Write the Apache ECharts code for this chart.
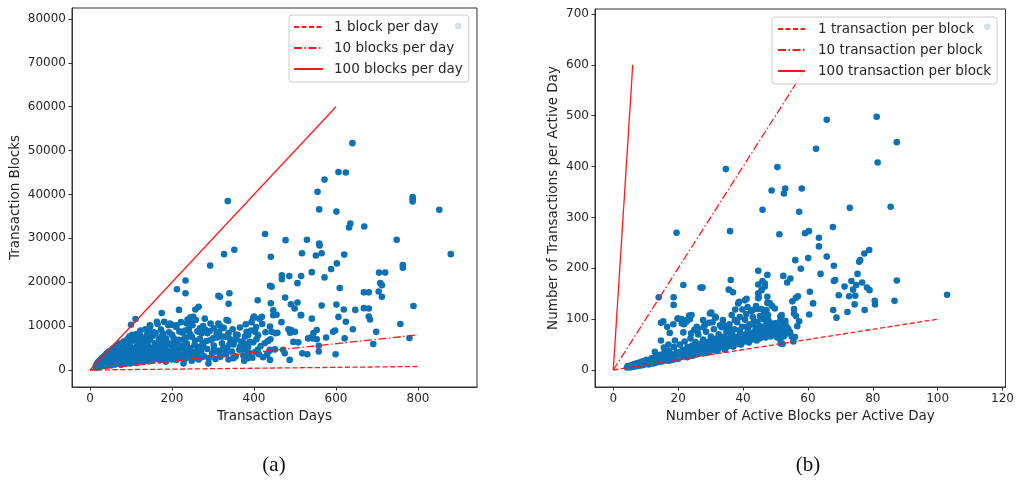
<!DOCTYPE html>
<html>
<head>
<meta charset="utf-8">
<script src="https://cdn.jsdelivr.net/npm/echarts@6/dist/echarts.min.js"></script>
<style>
  html, body { margin: 0; padding: 0; background: #ffffff; }
  #chart { width: 1017px; height: 481px; }
</style>
</head>
<body>
<div id="chart"></div>
<script>
// Tick labels
const daysTicks = [0, 200, 400, 600, 800];
const blocksTicks = [0, 10000, 20000, 30000, 40000, 50000, 60000, 70000, 80000];
const activeBlocksTicks = [0, 20, 40, 60, 80, 100, 120];
const txPerDayTicks = [0, 100, 200, 300, 400, 500, 600, 700];

// Reference rate lines: slope and the x where each line stops
const blockRateNames = ['1 block per day', '10 blocks per day', '100 blocks per day'];
const blockRates = [1, 10, 100];
const blockRateEnds = [800, 800, 600];

const txRateNames = ['1 transaction per block', '10 transaction per block', '100 transaction per block'];
const txRates = [1, 10, 100];
const txRateEnds = [100, 60, 6];

// (a) transaction days vs transaction blocks, one point per account
const daysVsBlocks = [
  [640,51700],[606,45100],[624,45000],[572,43400],[555,40600],[559,36600],[601,36100],[635,33400],
  [632,32500],[669,32700],[336,38500],[427,31000],[477,29600],[529,29700],[559,28800],[560,28400],
  [565,26600],[551,26100],[517,26600],[620,26300],[602,24300],[588,23000],[541,22300],[572,21100],
  [609,18700],[352,27400],[327,26400],[441,25800],[293,23800],[233,20400],[212,18400],[233,17500],
  [340,17500],[313,16900],[317,16700],[338,15100],[409,15900],[441,15200],[447,13600],[447,12500],
  [455,12600],[468,21600],[468,20700],[486,21400],[506,19800],[515,21400],[439,19200],[443,19000],
  [476,16500],[490,15000],[506,15400],[499,14000],[565,14700],[601,14900],[619,13800],[647,13700],
  [668,17700],[680,17700],[668,14100],[680,14000],[680,12200],[683,11500],[606,12100],[624,11000],
  [641,9300],[593,8700],[598,9000],[514,12500],[541,11700],[400,12200],[413,11700],[394,10900],
  [705,22200],[720,22200],[708,19800],[712,19300],[704,17900],[712,16700],[748,29700],[763,23900],
  [763,23300],[787,39400],[787,38900],[787,38400],[852,36500],[880,26400],[789,14600],[757,10500],
  [698,8700],[779,7300],[691,5900],[599,3600],[898,78400],[111,11600],[175,13000],[265,14400],
  [257,13800],[217,13700],[487,2300],[558,4200],[558,5500],[538,7400],[530,3600],[518,3800],
  [453,8400],[467,10900],[439,9900],[443,8700],[457,8500],[484,9300],[490,9100],[500,8700],
  [488,8500],[553,9100],[545,8400],[532,7200],[544,7200],[553,7000],[576,7400],[621,7200],
  [508,6300],[496,6400],[471,4600],[475,3800],[439,4600],[451,4700],[439,2300],[515,12500],
  [252,12100],[258,11400],[146,10200],[163,11000],[191,10200],[211,10200],[236,10600],[313,10600],
  [333,11400],[398,11800],[419,12100],[382,8700],[386,8000],[403,8700],[406,7000],[409,4600],
  [96,7600],[114,6800],[199,10300],[226,8500],[235,7400],[245,12000],[249,11200],[268,9500],
  [272,8400],[277,5300],[286,8400],[280,11700],[294,10600],[302,9500],[309,8400],[317,10100],
  [323,7600],[337,11200],[338,8400],[350,6300],[356,8000],[366,5300],[376,6100],[382,4600],
  [385,2700],[376,2100],[386,5300],[350,2700],[333,3800],[317,3400],[303,4700],[289,1500],
  [272,2900],[260,4200],[248,2100],[240,3800],[228,1500],[220,4900],[206,2700],[200,6100],
  [189,3800],[185,1900],[175,7600],[167,4900],[160,8400],[153,2800],[145,9100],[138,6100],
  [131,3800],[122,7800],[114,5300],[102,7600],[100,10300],
  [14,600],[16,1200],[17,900],[18,1600],[19,700],[20,1300],[21,1900],[22,1000],[23,2100],[24,1500],
  [25,800],[26,2400],[27,1200],[28,1800],[29,2700],[30,1000],[31,2200],[32,1500],[33,3000],[34,1200],
  [35,2600],[36,1900],[37,3300],[38,1400],[39,2300],[40,3700],[41,1100],[42,2800],[43,1700],[44,4100],
  [45,2200],[46,3200],[47,1300],[48,2600],[49,4300],[50,1800],[51,3500],[52,2300],[53,1100],[54,4700],
  [55,2900],[56,1600],[57,3900],[58,2100],[59,5100],[60,3000],[61,1300],[62,4200],[63,2500],[64,5500],
  [65,1800],[66,3400],[67,2200],[68,4600],[69,1500],[70,3700],[71,6000],[72,2700],[73,1900],[74,4900],
  [75,3200],[76,1200],[77,5600],[78,2400],[79,4000],[80,3000],[81,1600],[82,6500],[83,3600],[84,2100],
  [85,4800],[86,2800],[87,1400],[88,5300],[89,3400],[90,2200],[91,7000],[92,4100],[93,1800],[94,3000],
  [95,5900],[96,2500],[97,4500],[98,1500],[99,3800],[100,6400],[101,2800],[103,5000],[104,1900],[105,7300],
  [106,3500],[108,2400],[109,4500],[110,6800],[112,3100],[113,1600],[115,5600],[116,2700],[118,4100],[119,7600],
  [121,3400],[122,2100],[124,5200],[125,6600],[127,2900],[128,4300],[130,1800],[131,5900],[133,3600],[134,7400],
  [136,2500],[137,4800],[139,8000],[140,3100],[142,5500],[143,2000],[145,4100],[146,6900],[148,2800],[150,5000],
  [151,3600],[153,7800],[154,2300],[156,4600],[158,6100],[159,3200],[162,2600],[164,5300],[166,3900],[168,7100],
  [170,2200],[172,4500],[174,6200],[176,3300],[178,8300],[180,2500],[182,5000],[184,3800],[186,6800],[188,2900],
  [190,4400],[193,8600],[195,3300],[197,5700],[199,2400],[201,4200],[204,7300],[206,3600],[208,5200],[211,2300],
  [213,6400],[215,3900],[218,8800],[220,2800],[223,5500],[225,3400],[228,7000],[231,4500],[233,2600],[236,6000],
  [238,3700],[241,9300],[243,5000],[246,3100],[248,7600],[250,4200],[253,2600],[256,6700],[259,3600],[262,5300],
  [265,2400],[268,7100],[271,4000],[275,6100],[278,3100],[282,9100],[286,4800],[290,2700],[294,6800],[298,3800],
  [302,5600],[306,2500],[310,7400],[314,4400],[318,3000],[322,6100],[326,9600],[330,3600],[334,5100],[338,2400],
  [342,7000],[346,4200],[350,5800],[355,3100],[360,8000],[364,4600],[369,6500],[374,3300],[378,7600],[383,5700],
  [388,3900],[393,9000],[398,6300],[403,4100],[410,7900],[416,5400],[422,2900],[428,8600],[434,6600],[438,4400],
  [15,1000],[18,500],[21,1500],[24,2000],[26,1000],[29,1400],[32,2500],[34,1800],[37,900],[39,3100],
  [42,2100],[45,3600],[47,2700],[50,4000],[52,3000],[55,1400],[57,4600],[60,2400],[63,3700],[66,2800],
  [69,5000],[71,2000],[73,4200],[76,3500],[79,5300],[81,2600],[84,4400],[86,6000],[89,1900],[92,5000],
  [95,3400],[97,6600],[100,3000],[103,8000],[107,4200],[111,2000],[114,8200],[117,3700],[120,5000],[123,9000],
  [126,3800],[129,6200],[132,2300],[135,9300],[138,4500],[141,7000],[144,3500],[147,10000],[150,2400],[155,8600],
  [160,5600],[165,10500],[169,4200],[173,9200],[177,5700],[181,11000],[185,7200],[190,6000],[195,10600],[200,8000],
  [205,4800],[210,9800],[216,6900],[222,10900],[227,5600],[232,9000],[238,11500],[244,8200],[250,10200],[255,5700],
  [262,8800],[270,5300],[276,10000],[284,6600],[292,8900],[300,7200],[308,4200],[315,8700],[324,4800],[332,7600],
  [340,5800],[348,9300],[357,7000],[366,9700],[372,4700],[380,10400],[390,6400],[396,2800],[405,9800],[412,3600],
  [420,10500],[426,6100],[432,3500],[440,7000]
];

// (b) active blocks per active day vs transactions per active day
const blocksVsTx = [
  [81.2,498],[65.8,492],[62.5,435],[87.4,448],[81.5,408],[34.7,395],[50.6,399],[48.8,353],[53.0,357],
  [52.6,347],[58.1,357],[46.0,315],[57.3,311],[72.9,319],[85.5,321],[19.5,270],[36.0,273],[51.2,267],
  [59.1,269],[60.3,273],[67.7,281],[63.4,260],[63.4,243],[65.8,223],[60.1,220],[56.1,216],[68.0,205],
  [57.8,199],[78.9,236],[77.4,229],[76.1,216],[75.8,213],[44.7,195],[47.5,187],[63.9,189],[52.4,185],
  [54.6,180],[36.2,177],[53.6,172],[68.4,177],[68.0,175],[73.4,175],[75.3,189],[76.7,172],[74.9,167],
  [78.2,162],[79.0,157],[87.4,176],[71.3,164],[73.9,158],[72.7,145],[74.6,146],[74.4,129],[77.5,118],
  [69.5,147],[80.6,136],[80.7,129],[86.7,136],[72.2,114],[67.8,118],[68.8,103],[102.9,148],[21.6,167],
  [26.9,162],[27.5,162],[14.0,143],[18.6,143],[18.6,128],[30.2,113],[35.6,158],[36.9,153],[44.7,168],
  [46.0,175],[44.7,151],[44.8,144],[46.7,170],[46.7,164],[41.1,140],[38.8,134],[41.4,124],[39.8,119],
  [37.6,119],[43.0,118],[44.4,120],[45.7,120],[47.5,144],[47.5,132],[49.0,126],[56.9,145],[56.3,142],
  [55.2,135],[55.7,120],[55.7,111],[56.3,106],[57.3,96],[56.7,86],[60.4,109],[56.0,65],[53.0,97],
  [53.0,92],[51.5,105],[49.5,81],[50.9,82],[52.7,79],[53.9,75],[51.6,52],[52.2,51],[14.7,93],
  [15.4,96],[14.7,58],[18.5,90],[17.4,73],[21.6,74],[115.3,675],[16.6,85],[20.0,101],[21.1,92],
  [22.6,98],[24.1,108],[25.7,85],[27.7,98],[29.8,111],[31.3,105],[38.5,131],[40.6,137],[45.7,157],
  [44.7,141],[48.3,131],[47.2,118],[47.7,108],[49.8,121],[51.9,108],[51.3,95],[52.9,79],[60.6,154],
  [61.6,131],[41.1,85],[42.1,88],[43.1,92],[44.1,82],[45.2,75],[46.2,69],[21.8,90],[22.6,95],
  [23.6,100],[23.4,107],[21.0,100],[19.8,101],[25.0,79],[27.8,84],[29.5,93],[31.6,103],[32.9,88],
  [34.5,87],[35.6,83],
  [4.2,5],[4.8,7],[5.1,5],[5.4,9],[5.8,6],[6.1,8],[6.3,11],[6.7,7],[7.0,10],[7.2,13],[7.6,8],[7.9,11],
  [8.2,15],[8.5,9],[8.8,13],[9.1,17],[9.3,10],[9.7,14],[10.0,12],[10.2,20],[10.6,15],[10.9,11],[11.2,18],
  [11.5,13],[11.8,23],[12.1,16],[12.4,13],[12.7,20],[13.0,26],[13.3,15],[13.6,18],[13.9,23],[14.2,16],
  [14.5,30],[14.8,20],[15.1,17],[15.4,25],[15.7,34],[16.0,19],[16.3,22],[16.6,28],[16.9,18],[17.2,38],
  [17.5,24],[17.8,21],[18.1,31],[18.4,20],[18.7,45],[19.0,26],[19.3,22],[19.6,35],[19.9,29],[20.2,24],
  [20.5,50],[20.8,31],[21.1,26],[21.4,40],[21.7,28],[22.0,56],[22.3,34],[22.6,30],[22.9,45],[23.2,27],
  [23.5,38],[23.8,62],[24.1,32],[24.4,48],[24.7,36],[25.0,30],[25.3,55],[25.6,41],[25.9,34],[26.2,70],
  [26.5,45],[26.8,38],[27.1,52],[27.4,33],[27.7,60],[28.0,42],[28.3,36],[28.6,75],[28.9,48],[29.2,40],
  [29.5,56],[29.8,37],[30.1,66],[30.4,46],[30.7,41],[31.0,80],[31.3,52],[31.6,44],[31.9,62],[32.2,40],
  [32.5,70],[32.8,49],[33.1,45],[33.4,84],[33.7,56],[34.0,48],[34.3,66],[34.6,43],[34.9,75],[35.2,53],
  [35.5,47],[35.8,90],[36.1,61],[36.4,52],[36.7,70],[37.0,46],[37.3,80],[37.6,58],[37.9,51],[38.2,94],
  [38.5,66],[38.8,55],[39.1,74],[39.4,50],[39.7,85],[40.0,62],[40.3,56],[40.6,99],[40.9,70],[41.2,59],
  [41.5,78],[41.8,54],[42.1,90],[42.4,66],[42.7,60],[43.0,104],[43.3,74],[43.6,63],[43.9,82],[44.2,58],
  [44.5,95],[44.8,70],[45.1,62],[45.4,86],[45.7,74],[46.0,65],[46.3,100],[46.6,78],[46.9,68],[47.2,90],
  [47.5,72],[48.0,84],[48.5,66],[49.0,78],[49.5,70],[50.0,92],[50.5,64],[51.0,76],[51.5,60],[52.0,86],
  [53.0,70],[54.0,80],[55.0,66],
  [4.5,8],[5.0,6],[5.6,7],[6.0,10],[6.5,9],[7.3,9],[7.8,12],[8.4,12],[9.0,11],[9.5,16],[10.4,13],[11.0,16],
  [11.7,14],[12.3,18],[13.1,17],[13.8,20],[14.4,18],[15.0,22],[15.9,21],[16.8,25],[17.6,19],[18.3,27],
  [19.2,30],[20.0,22],[20.9,36],[21.9,33],[22.8,25],[23.6,44],[24.5,28],[25.4,47],[26.3,32],[27.2,44],
  [28.1,54],[29.0,34],[29.9,50],[30.8,60],[31.7,38],[32.6,55],[33.5,64],[34.4,40],[35.3,60],[36.2,72],
  [37.1,52],[38.0,64],[38.9,78],[39.8,58],[40.7,66],[41.6,86],[42.5,72],[43.4,96],[44.3,76],[45.2,106],
  [46.1,84],[47.0,64],[47.8,98],[48.7,92],[49.6,86],[50.5,80],[51.5,72],[52.5,66],[53.5,84],[54.5,74],
  [55.5,56],[37.5,98],[39.0,104],[41.0,110],[42.5,116],[44.0,126],[46.5,112],[36.5,108],[33.8,98],
  [30.6,94],[28.2,88],[26.0,80],[24.0,72],[19.0,58],[17.0,50],[15.6,44],[12.8,36]
];

const FONT = 'DejaVu Sans';
const TEXT = '#262626';
const FRAME = '#333333';
const DOT = '#0b72b5';
const RED = '#ff1a1a';
const dashStyles = [[5, 2.5], [8, 2.5, 1.5, 2.5], 'solid'];

function rateLines(names, rates, ends, axisIdx) {
  return names.map((name, i) => ({
    name: name,
    type: 'line',
    xAxisIndex: axisIdx,
    yAxisIndex: axisIdx,
    data: [[0, 0], [ends[i], ends[i] * rates[i]]],
    symbol: 'none',
    showSymbol: false,
    z: 5,
    silent: true,
    lineStyle: { color: RED, width: 1.3, type: dashStyles[i] },
    itemStyle: { color: RED }
  }));
}

function valueAxis(gridIdx, min, max, ticks, name, gap) {
  return {
    type: 'value',
    gridIndex: gridIdx,
    min: min,
    max: max,
    name: name,
    nameLocation: 'middle',
    nameGap: gap,
    nameTextStyle: { fontFamily: FONT, fontSize: 13.5, color: TEXT },
    axisLine: { show: true, onZero: false, lineStyle: { color: FRAME, width: 1 } },
    axisTick: { show: true, length: 3.5, inside: false, customValues: ticks, lineStyle: { color: FRAME, width: 1 } },
    axisLabel: {
      customValues: ticks, fontFamily: FONT, fontSize: 12, color: TEXT, margin: 6,
      formatter: v => String(v)
    },
    splitLine: { show: false }
  };
}

function legendBox(names, left, top, itemWidth, textPad, padding) {
  return {
    data: names,
    orient: 'vertical',
    left: left,
    top: top,
    itemWidth: itemWidth,
    itemHeight: 14,
    itemGap: 7,
    padding: padding,
    selectedMode: false,
    backgroundColor: 'rgba(255,255,255,0.8)',
    borderColor: '#cccccc',
    borderWidth: 1,
    borderRadius: 3,
    z: 10,
    itemStyle: { color: 'transparent', borderWidth: 0, opacity: 0 },
    textStyle: { fontFamily: FONT, fontSize: 13.5, color: TEXT, padding: [0, 0, 0, textPad] }
  };
}

const chart = echarts.init(document.getElementById('chart'), null, { renderer: 'canvas' });

chart.setOption({
  animation: false,
  backgroundColor: '#ffffff',
  grid: [
    { left: 72, top: 8, width: 405, height: 379, show: true, borderColor: FRAME, borderWidth: 1, backgroundColor: 'transparent' },
    { left: 595, top: 9, width: 411, height: 378, show: true, borderColor: FRAME, borderWidth: 1, backgroundColor: 'transparent' }
  ],
  xAxis: [
    valueAxis(0, -43.9, 943.9, daysTicks, 'Transaction Days', 21),
    valueAxis(1, -5.64, 120.9, activeBlocksTicks, 'Number of Active Blocks per Active Day', 21)
  ],
  yAxis: [
    valueAxis(0, -3875, 82507, blocksTicks, 'Transaction Blocks', 50),
    valueAxis(1, -33.4, 709.8, txPerDayTicks, 'Number of Transactions per Active Day', 35)
  ],
  legend: [
    legendBox(blockRateNames, 289, 15, 29, 6, [5, 6, 6, 4]),
    legendBox(txRateNames, 772, 17, 27, 8, [5, 6, 6, 5])
  ],
  graphic: [
    { type: 'text', x: 274, y: 465, style: { text: '(a)', fontFamily: 'Liberation Serif', fontSize: 21, fill: '#111', textAlign: 'center', textVerticalAlign: 'middle' } },
    { type: 'text', x: 808, y: 465, style: { text: '(b)', fontFamily: 'Liberation Serif', fontSize: 21, fill: '#111', textAlign: 'center', textVerticalAlign: 'middle' } }
  ],
  series: [
    {
      type: 'scatter', name: 'accounts-a', xAxisIndex: 0, yAxisIndex: 0,
      data: daysVsBlocks, symbolSize: 6.6, z: 2, silent: true,
      itemStyle: { color: DOT, opacity: 1 }
    },
    ...rateLines(blockRateNames, blockRates, blockRateEnds, 0),
    {
      type: 'scatter', name: 'accounts-b', xAxisIndex: 1, yAxisIndex: 1,
      data: blocksVsTx, symbolSize: 6.6, z: 2, silent: true,
      itemStyle: { color: DOT, opacity: 1 }
    },
    ...rateLines(txRateNames, txRates, txRateEnds, 1)
  ]
});
</script>
</body>
</html>
